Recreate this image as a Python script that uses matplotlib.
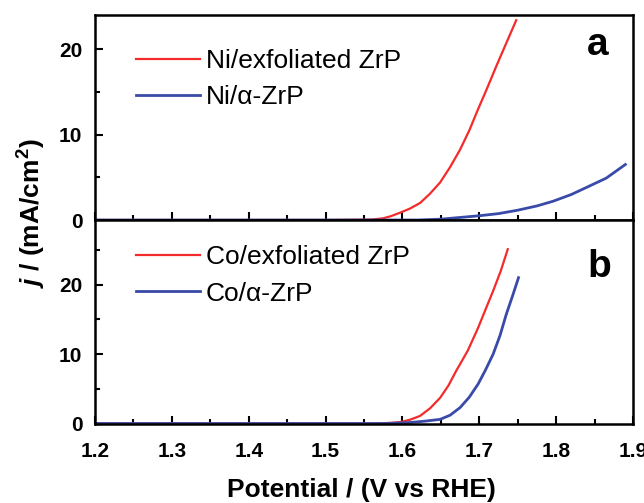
import matplotlib
matplotlib.use("Agg")
import matplotlib.pyplot as plt
from matplotlib.ticker import MultipleLocator

plt.rcParams['font.family'] = ['Liberation Sans', 'DejaVu Sans']
plt.rcParams['mathtext.fontset'] = 'custom'
plt.rcParams['mathtext.it'] = 'Liberation Sans:italic:bold'
plt.rcParams['mathtext.bf'] = 'Liberation Sans:bold'
plt.rcParams['mathtext.rm'] = 'Liberation Sans:bold'

red = "#f52a2a"
blue = "#3a4aa8"

# panel a: Ni catalysts
ni_exf_v = [1.2, 1.50, 1.56, 1.575, 1.585, 1.597, 1.61, 1.623, 1.636, 1.649, 1.662,
            1.675, 1.687, 1.698, 1.71, 1.722, 1.735, 1.748]
ni_exf_j = [0, 0, 0.05, 0.2, 0.45, 0.86, 1.35, 2.0, 3.1, 4.4, 6.2,
            8.25, 10.5, 12.9, 15.4, 18.0, 20.7, 23.4]
ni_a_v = [1.2, 1.62, 1.65, 1.675, 1.70, 1.725, 1.75, 1.775, 1.796, 1.82, 1.839, 1.865, 1.89]
ni_a_j = [0, 0, 0.1, 0.3, 0.5, 0.75, 1.15, 1.65, 2.2, 3.0, 3.8, 4.9, 6.5]

# panel b: Co catalysts
co_exf_v = [1.2, 1.565, 1.585, 1.597, 1.61, 1.623, 1.636, 1.649, 1.66, 1.67, 1.685,
            1.6985, 1.708, 1.718, 1.728, 1.737]
co_exf_j = [0, 0, 0.1, 0.2, 0.55, 1.1, 2.2, 3.7, 5.5, 7.6, 10.5,
            13.8, 16.4, 19.1, 22.0, 25.1]
co_a_v = [1.2, 1.58, 1.61, 1.63, 1.649, 1.662, 1.675, 1.687, 1.6985, 1.708, 1.718,
          1.727, 1.735, 1.743, 1.751]
co_a_j = [0, 0, 0.15, 0.35, 0.6, 1.2, 2.3, 3.8, 5.7, 7.7, 10.0,
          12.7, 15.7, 18.3, 21.0]

fig = plt.figure(figsize=(6.44, 5.03), dpi=100)
ax1 = fig.add_axes([0.1475, 0.5626, 0.8355, 0.4074])
ax2 = fig.add_axes([0.1475, 0.158, 0.8355, 0.4046], sharex=ax1)

ax1.plot(ni_exf_v, ni_exf_j, color=red, lw=1.6, label="Ni/exfoliated ZrP")
ax1.plot(ni_a_v, ni_a_j, color=blue, lw=2.0, label="Ni/\u03b1-ZrP")
ax2.plot(co_exf_v, co_exf_j, color=red, lw=1.6, label="Co/exfoliated ZrP")
ax2.plot(co_a_v, co_a_j, color=blue, lw=2.0, label="Co/\u03b1-ZrP")

ax1.set_ylim(0, 24)
ax2.set_ylim(0, 29.3)
ax1.set_xlim(1.2, 1.9)

setup = [(ax1, "a", 0.935, 0.805, 0.834, 0.45), (ax2, "b", 0.938, 0.721, 0.877, 0.48)]
for ax, letter, lx, ly, legy, lsp in setup:
    for s in ax.spines.values():
        s.set_linewidth(1.8)
    ax.xaxis.set_major_locator(MultipleLocator(0.1))
    ax.xaxis.set_minor_locator(MultipleLocator(0.05))
    ax.yaxis.set_major_locator(MultipleLocator(10))
    ax.yaxis.set_minor_locator(MultipleLocator(5))
    ax.tick_params(which='both', direction='in', width=1.5, labelsize=15)
    ax.tick_params(axis='y', pad=9)
    ax.tick_params(axis='x', pad=13)
    ax.tick_params(which='major', length=6)
    ax.tick_params(which='minor', length=3.5)
    for lab in ax.get_yticklabels():
        lab.set_fontweight('bold')
    ax.text(lx, ly, letter, transform=ax.transAxes, fontsize=28,
            fontweight='bold', ha='center', va='baseline')
    ax.legend(loc='upper left', bbox_to_anchor=(0.076, legy), frameon=False,
              fontsize=19, handlelength=2.42, handletextpad=0.23, labelspacing=lsp,
              borderpad=0, borderaxespad=0)

ax1.tick_params(axis='x', labelbottom=False)
ax2.set_xticks([1.2, 1.3, 1.4, 1.5, 1.6, 1.7, 1.8, 1.9])
ax2.set_xticklabels(["1.2", "1.3", "1.4", "1.5", "1.6", "1.7", "1.8", "1.9"],
                    fontweight='bold', fontsize=15)

fig.text(0.562, 0.026, "Potential / (V vs RHE)", fontsize=19, fontweight='bold',
         ha='center', va='center')
fig.text(0.05, 0.576, r"$\mathit{j}$ / (mA/cm$^{\mathbf{2}}$)", rotation=90,
         fontsize=19, fontweight='bold', ha='center', va='center')

fig.savefig("out.png", dpi=100)
